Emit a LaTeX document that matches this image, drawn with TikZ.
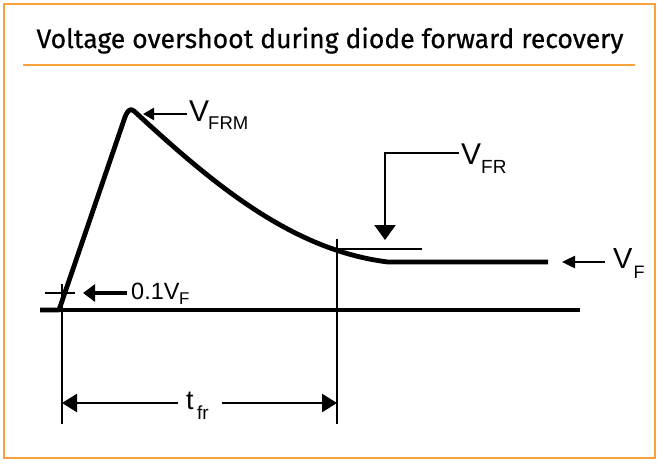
\documentclass[tikz,border=0pt]{standalone}
\usepackage{fontspec}
\setmainfont{Liberation Sans}
\newfontfamily\titlefont[FakeBold=0.6]{Fira Sans}
\usetikzlibrary{arrows.meta}
\definecolor{frameorange}{HTML}{F7A23A}
\tikzset{
  frame/.style={draw=frameorange, line width=2pt},
  wave/.style={line width=4.8pt, line join=round},
  axisline/.style={line width=3.5pt},
  guide/.style={line width=2pt},
  lbl/.style={inner sep=0pt, anchor=base west},
  sub/.style={inner sep=0pt, anchor=base west},
}
\newcommand{\fsz}[1]{\fontsize{#1}{#1}\selectfont}
\begin{document}
\begin{tikzpicture}[x=1pt, y=-1pt]
\useasboundingbox (0,0) rectangle (660,463);
% frame and title
\draw[frame] (4,4) rectangle (655,458);
\node[inner sep=0pt, anchor=base] (title) at (330,48) {\titlefont\fsz{26.5}Voltage overshoot during diode forward recovery};
\draw[frameorange, line width=2pt] (23,65) -- (635,65);
% axis
\draw[axisline] (40,310) -- (580,310);
% waveform
\draw[wave] (40,310) -- (59,310) -- (125,117) .. controls (128,110) and (130,108) .. (134,111)
  .. controls (210,181) and (290,250) .. (388,262) -- (548,262);
% guide lines
\coordinate (lt) at (62,284);
\coordinate (lb) at (62,424);
\coordinate (rt) at (337,239);
\coordinate (rb) at (337,424);
\draw[guide] (lt) -- (lb);
\draw[guide] (rt) -- (rb);
\coordinate (tickL) at (45,293);
\coordinate (tickR) at (75,293);
\draw[guide] (tickL) -- (tickR);
\coordinate (refL) at (336,249);
\coordinate (refR) at (422,249);
\draw[guide] (refL) -- (refR);
% V_FRM
\node[lbl] (vfrm) at (189,121) {\fsz{30}V};
\node[sub] (vfrmsub) at (208,129) {\fsz{18.5}FRM};
\coordinate (vfrmtail) at (187,114);
\coordinate (vfrmtip) at (143,114);
\draw[line width=2.5pt, -{Triangle[length=11pt,width=12pt]}] (vfrmtail) -- (vfrmtip);
% 0.1 V_F
\node[lbl] (tenth) at (131,299) {\fsz{23.5}0.1V};
\node[sub] (tenthsub) at (179,304) {\fsz{17}F};
\coordinate (tenthtail) at (127,293);
\coordinate (tenthtip) at (83,293);
\draw[line width=4pt, -{Triangle[length=12pt,width=17pt]}] (tenthtail) -- (tenthtip);
% V_FR
\node[lbl] (vfr) at (461,164) {\fsz{30}V};
\node[sub] (vfrsub) at (481,173) {\fsz{19}FR};
\coordinate (vfrstart) at (459,153);
\coordinate (vfrcorner) at (385,153);
\coordinate (vfrtip) at (385,240);
\draw[line width=2.5pt, -{Triangle[length=15pt,width=21pt]}] (vfrstart) -- (vfrcorner) -- (vfrtip);
% V_F
\node[lbl] (vf) at (613,268) {\fsz{29}V};
\node[sub] (vfsub) at (633.5,278) {\fsz{18}F};
\coordinate (vftail) at (605,262);
\coordinate (vftip) at (562,262);
\draw[line width=2.5pt, -{Triangle[length=13pt,width=12pt]}] (vftail) -- (vftip);
% t_fr
\node[lbl] (tfr) at (186,409) {\fsz{27}t};
\node[sub] (tfrsub) at (197,419) {\fsz{19}fr};
\coordinate (dimL) at (62,403);
\coordinate (dimR) at (337,403);
\coordinate (dimLa) at (178,403);
\coordinate (dimRa) at (222,403);
\draw[line width=2.5pt, -{Triangle[length=15pt,width=18pt]}] (dimLa) -- (dimL);
\draw[line width=2.5pt, -{Triangle[length=15pt,width=18pt]}] (dimRa) -- (dimR);
\end{tikzpicture}
\end{document}
